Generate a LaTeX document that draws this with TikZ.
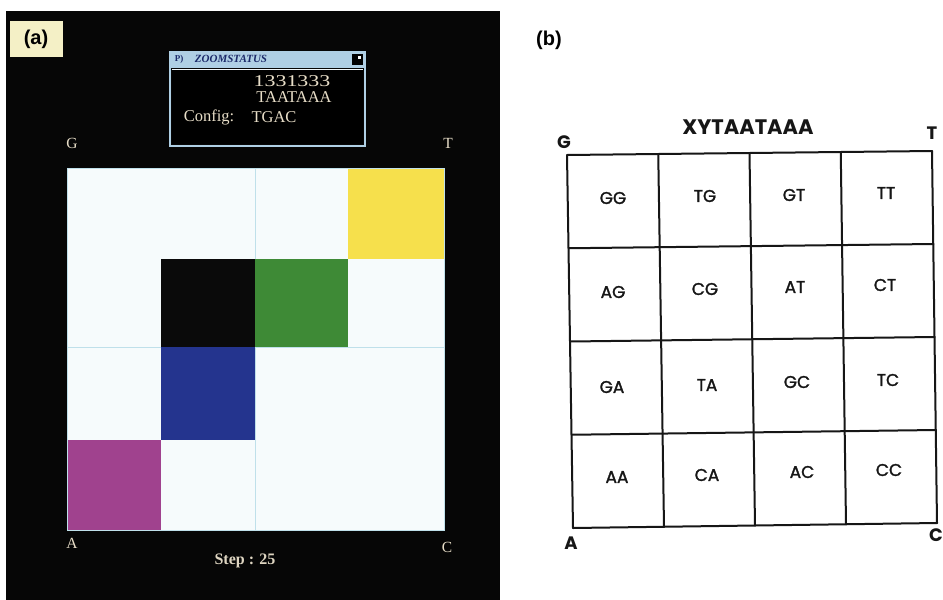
\documentclass[tikz,border=0pt]{standalone}
\usepackage{fontspec}
\setmainfont{Liberation Serif}
\newfontfamily\geo{Poppins}
\newfontfamily\geom[FakeBold=1.6]{Poppins}
\newfontfamily\helv{Liberation Sans}
\usetikzlibrary{calc}
\definecolor{panelblack}{HTML}{060606}
\definecolor{cellwhite}{HTML}{F6FBFC}
\definecolor{cyellow}{HTML}{F6E04C}
\definecolor{cgreen}{HTML}{3E8A36}
\definecolor{cblue}{HTML}{24348E}
\definecolor{cmagenta}{HTML}{A0428E}
\definecolor{cdark}{HTML}{0A0A0A}
\definecolor{faint}{HTML}{BFE0EA}
\definecolor{winblue}{HTML}{AFCFE4}
\definecolor{navy}{HTML}{1C2A6A}
\definecolor{cream}{HTML}{E8DEC8}
\definecolor{labelbg}{HTML}{F4F0C6}
\definecolor{ink}{HTML}{161616}
\tikzset{
  screentext/.style={text=cream, inner sep=0pt, font=\fontsize{16.5}{18}\selectfont},
  cornerA/.style={text=cream, inner sep=0pt, font=\fontsize{15.5}{18}\selectfont},
  cornerB/.style={text=ink, inner sep=0pt, font=\geo\bfseries\fontsize{18}{20}\selectfont},
  cellname/.style={text=ink, inner sep=0pt, font=\geom\fontsize{17}{20}\selectfont},
  gridline/.style={draw=ink, line width=2pt},
  panellabel/.style={inner sep=0pt, font=\helv\bfseries\fontsize{20}{24}\selectfont}
}
\begin{document}
\begin{tikzpicture}[x=1pt,y=-1pt]
\useasboundingbox (0,0) rectangle (943,600);
\fill[white] (0,0) rectangle (943,600);
% ---------- panel (a) ----------
\fill[panelblack] (6,11) rectangle (500,600);
\fill[labelbg] (10,21) rectangle (63,57);
\node[panellabel] (la) at (36,39) {(a)};
% zoom status window
\fill[winblue] (170,52) rectangle (365,68);
\fill[black] (172,69) rectangle (363,144);
\draw[winblue, line width=2pt] (170,52) rectangle (365,146);
\draw[white!85!winblue, line width=0.8pt] (172,69) -- (363,69);
\node[text=navy, inner sep=0pt, font=\bfseries\itshape\fontsize{11}{12}\selectfont] (wt) at (231,59) {ZOOMSTATUS};
\node[text=navy, inner sep=0pt, font=\bfseries\fontsize{9}{10}\selectfont] (wi) at (179,59) {P)};
\fill[black] (352,53.5) rectangle (363,64.5);
\fill[white] (358,55.5) rectangle (361,58.5);
\node[screentext] (num) at (292,81) {\scalebox{1.33}[1]{1331333}};
\node[screentext] (seq) at (294,97) {TAATAAA};
\node[screentext] (cfg) at (209,117) {Config:};
\node[screentext] (cfgv) at (274,117) {TGAC};
% CGR grid (a)
\fill[cellwhite] (67,168) rectangle (444,530);
\draw[faint, line width=0.8pt] (255,168) -- (255,530);
\draw[faint, line width=0.8pt] (67,347) -- (444,347);
\fill[cyellow] (348,168) rectangle (444,259);
\fill[cdark] (161,259) rectangle (255,347);
\fill[cgreen] (255,259) rectangle (348,347);
\fill[cblue] (161,347) rectangle (255,440);
\fill[cmagenta] (67,440) rectangle (161,530);
\draw[faint, line width=1pt] (67,168) rectangle (444,530);
\node[cornerA] (aG) at (72,143) {G};
\node[cornerA] (aT) at (448,143) {T};
\node[cornerA] (aA) at (72,543) {A};
\node[cornerA] (aC) at (447,547) {C};
\node[screentext, text=cream!90!gray, font=\bfseries\fontsize{16}{20}\selectfont] (step) at (245,561) {Step : 25};
% ---------- panel (b) ----------
\node[panellabel] (lb) at (549,40) {(b)};
\node[text=ink, inner sep=0pt, font=\geo\bfseries\fontsize{21}{24}\selectfont] (title) at (748,127) {XYTAATAAA};
\coordinate (pG) at (567,155);
\coordinate (pT) at (932,151);
\coordinate (pA) at (573,528);
\coordinate (pC) at (937,523);
\foreach \i in {0,1,2,3,4} {
  \draw[gridline, line cap=round] ($(pG)!\i/4!(pT)$) -- ($(pA)!\i/4!(pC)$);
  \draw[gridline, line cap=round] ($(pG)!\i/4!(pA)$) -- ($(pT)!\i/4!(pC)$);
}
\node[cornerB] (bG) at (564,142) {G};
\node[cornerB] (bT) at (932,133) {T};
\node[cornerB] (bA) at (571,543) {A};
\node[cornerB] (bC) at (936,535) {C};
\foreach \nm/\x/\y in {GG/613/198, TG/705/196, GT/794/195, TT/886/193,
                       AG/613/292, CG/705/289, AT/795/287, CT/885/285,
                       GA/612/387, TA/707/385, GC/797/382, TC/888/380,
                       AA/617/477, CA/707/475, AC/802/472, CC/889/470} {
  \node[cellname] (c\nm) at (\x,\y) {\nm};
}
\end{tikzpicture}
\end{document}
